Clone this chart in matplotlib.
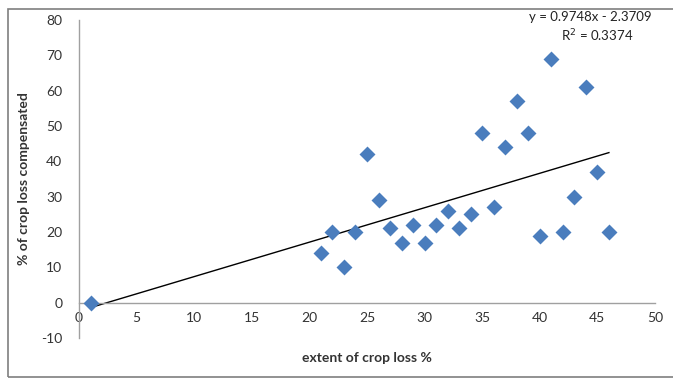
import matplotlib
matplotlib.use("Agg")
import matplotlib.pyplot as plt
import numpy as np
from matplotlib.patches import Rectangle

plt.rcParams['font.family'] = ['Lato', 'DejaVu Sans']
plt.rcParams['axes.unicode_minus'] = False

x_loss = [1, 21, 22, 23, 24, 25, 26, 27, 28, 29, 30, 31, 32, 33, 34, 35, 36, 37, 38, 39, 40, 41, 42, 43, 44, 45, 46]
y_comp = [0, 14, 20, 10, 20, 42, 29, 21, 17, 22, 17, 22, 26, 21, 25, 48, 27, 44, 57, 48, 19, 69, 20, 30, 61, 37, 20]
slope = 0.9748
intercept = -2.3709
r2 = 0.3374
x_ticks = [0, 5, 10, 15, 20, 25, 30, 35, 40, 45, 50]
y_ticks = [-10, 0, 10, 20, 30, 40, 50, 60, 70, 80]

W, H = 673, 389
fig = plt.figure(figsize=(W/100, H/100), dpi=100)
fig.patches.append(Rectangle((8/W, 1-377/H), 1, (377-9)/H, transform=fig.transFigure,
                             fill=False, edgecolor='#7f7f7f', linewidth=1.2))

ax = fig.add_axes([79/W, 1-338/H, (655-79)/W, (338-20)/H])
ax.scatter(x_loss, y_comp, marker='D', s=66, color='#4a7dbd', zorder=3, linewidths=0)
xl = np.array([min(x_loss), max(x_loss)])
ax.plot(xl, slope*xl + intercept, color='black', linewidth=1.0, zorder=2)

ax.set_xlim(0, 50)
ax.set_ylim(-10, 80)
ax.set_xticks(x_ticks)
ax.set_yticks(y_ticks)
ax.spines['top'].set_visible(False)
ax.spines['right'].set_visible(False)
ax.spines['bottom'].set_position(('data', 0))
for s in ['left', 'bottom']:
    ax.spines[s].set_color('#a0a0a0')
    ax.spines[s].set_linewidth(1.0)
ax.tick_params(axis='both', length=0, labelsize=10, colors='#333333')
ax.tick_params(axis='x', pad=7)
ax.tick_params(axis='y', pad=12)

ax.set_xlabel('extent of crop loss %', fontsize=10, fontweight='bold', color='#333333')
ax.xaxis.set_label_coords(0.5, -0.045)
ax.set_ylabel('% of crop loss compensated', fontsize=10, fontweight='bold', color='#333333')
ax.yaxis.set_label_coords(-0.085, 0.5)

fig.text(590/W, 1-17/H, 'y = 0.9748x - 2.3709', ha='center', va='center', fontsize=9.5, color='#222222')
fig.text(597/W, 1-36/H, 'R$^2$ = 0.3374', ha='center', va='center', fontsize=9.5, color='#222222')

fig.savefig('out.png', dpi=100)
